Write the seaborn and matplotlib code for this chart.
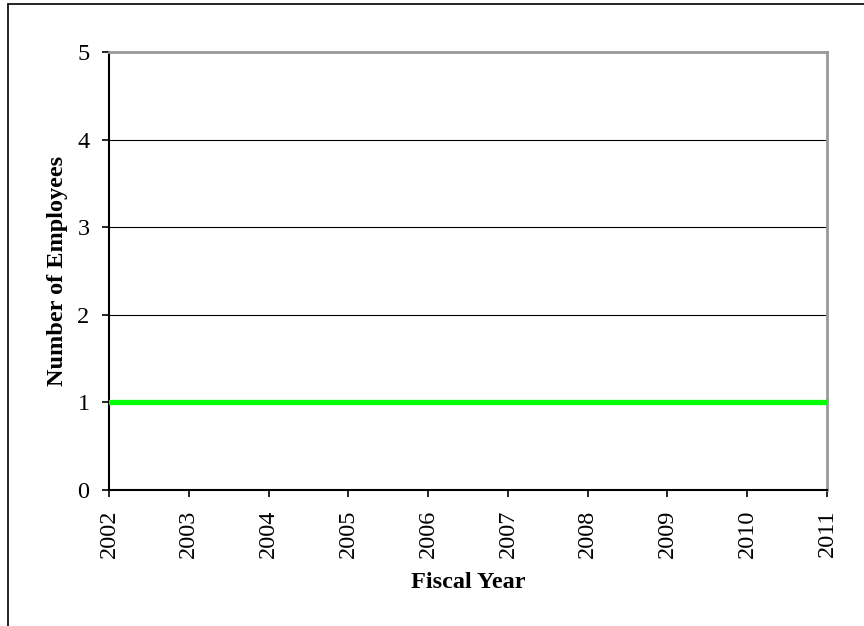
import matplotlib
matplotlib.use("Agg")
import matplotlib.pyplot as plt
from matplotlib.lines import Line2D
import seaborn as sns
import pandas as pd

years = [2002, 2003, 2004, 2005, 2006, 2007, 2008, 2009, 2010, 2011]
employees = [1, 1, 1, 1, 1, 1, 1, 1, 1, 1]

sns.set_style("white")
plt.rcParams["font.family"] = ["Liberation Serif", "DejaVu Serif"]
plt.rcParams["text.color"] = "black"
plt.rcParams["axes.labelcolor"] = "black"
plt.rcParams["xtick.color"] = "black"
plt.rcParams["ytick.color"] = "black"

df = pd.DataFrame({"Fiscal Year": years, "Number of Employees": employees})

fig = plt.figure(figsize=(8.64, 6.26), dpi=100)
ax = fig.add_axes([109 / 864, 1 - 490 / 626, (827 - 109) / 864, (490 - 52) / 626])

sns.lineplot(data=df, x="Fiscal Year", y="Number of Employees", ax=ax,
             color="#00ff00", linewidth=3.8, zorder=3)

ax.set_xlim(years[0], years[-1])
ax.set_ylim(0, 5)
ax.set_xticks(years)
ax.set_xticklabels([str(y) for y in years], rotation=90, fontsize=17.5)
ax.set_yticks(range(6))
ax.set_yticklabels([str(i) for i in range(6)], fontsize=17.5)

ax.yaxis.grid(True, color="black", linewidth=0.8)
ax.xaxis.grid(False)
ax.set_axisbelow(True)

ax.tick_params(axis="both", direction="out", length=5, width=1.2, color="black",
               labelcolor="black", left=True, bottom=True, pad=9)

for side in ("left", "bottom"):
    ax.spines[side].set_color("black")
    ax.spines[side].set_linewidth(1.5)
for side in ("top", "right"):
    ax.spines[side].set_color("#999999")
    ax.spines[side].set_linewidth(2)

ax.set_xlabel("Fiscal Year", fontsize=17.5, fontweight="bold", labelpad=10, color="black")
ax.set_ylabel("Number of Employees", fontsize=17.5, fontweight="bold", labelpad=7, color="black")

# outer frame (top and left edges)
fig.add_artist(Line2D([8 / 864, 8 / 864], [0, 1 - 4 / 626], color="black", linewidth=1.2,
                      transform=fig.transFigure))
fig.add_artist(Line2D([8 / 864, 1], [1 - 4 / 626, 1 - 4 / 626], color="black", linewidth=1.2,
                      transform=fig.transFigure))

fig.savefig("out.png", dpi=100)
